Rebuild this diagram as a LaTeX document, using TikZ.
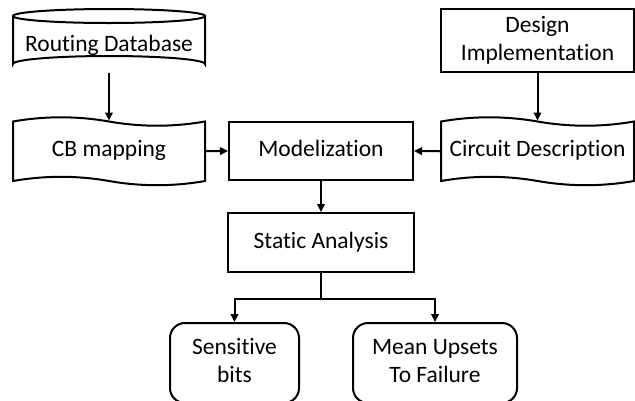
\documentclass[tikz,border=0pt]{standalone}
\usepackage{fontspec}
\setmainfont{Carlito}[Ligatures=NoCommon]
\usetikzlibrary{arrows.meta}
\newcommand\sr{\rule[-4.8pt]{0pt}{20pt}}
\newcommand\tapeshape[4]{%
  \draw (#1,#3) .. controls ({#1+(#2-#1)/6},{#3-5.6}) and ({#1+(#2-#1)/3},{#3-5.6}) .. ({(#1+#2)/2},#3)
    .. controls ({#1+2*(#2-#1)/3},{#3+5.6}) and ({#1+5*(#2-#1)/6},{#3+5.6}) .. (#2,#3)
    -- (#2,#4) .. controls ({#1+5*(#2-#1)/6},{#4+5.6}) and ({#1+2*(#2-#1)/3},{#4+5.6}) .. ({(#1+#2)/2},#4)
    .. controls ({#1+(#2-#1)/3},{#4-5.6}) and ({#1+(#2-#1)/6},{#4-5.6}) .. (#1,#4) -- cycle;}
\begin{document}
\begin{tikzpicture}[x=1pt,y=-1pt,line width=2pt,
  txt/.style={font=\fontsize{23.5}{28}\selectfont, align=center, inner sep=0pt},
  boxed/.style={txt, draw, rectangle},
  rbox/.style={txt, draw, rectangle, rounded corners=15pt},
  arr/.style={-{Triangle[length=8pt,width=7.5pt]}}]
\useasboundingbox (0,0) rectangle (635,400);
\clip (0,0) rectangle (635,400);
% cylinder outline
\draw (13,16) -- (13,64) arc[start angle=180,end angle=360,x radius=96,y radius=8] -- (205,16);
\draw (109,16) ellipse [x radius=96, y radius=7];
% tape outlines
\tapeshape{13}{205}{121.5}{181}
\tapeshape{441}{634}{121.5}{181}
% nodes
\node[txt, minimum width=192pt, minimum height=53pt] (rdb) at (109,45.5) {\sr Routing Database};
\node[boxed, minimum width=193pt, minimum height=63pt] (di) at (537.5,40.5) {\sr Design\\\sr Implementation};
\node[txt, minimum width=192pt, minimum height=59.5pt] (cb) at (109,151.25) {\sr CB mapping};
\node[txt, minimum width=193pt, minimum height=59.5pt] (ci) at (537.5,151.25) {\sr Circuit Description};
\node[boxed, minimum width=184pt, minimum height=58pt] (mod) at (321,151) {\sr Modelization};
\node[boxed, minimum width=186pt, minimum height=59pt] (sa) at (321,242.5) {\sr Static Analysis};
\node[rbox, minimum width=129pt, minimum height=80pt] (sb) at (234.5,363) {\sr Sensitive\\\sr bits};
\node[rbox, minimum width=164pt, minimum height=80pt] (mu) at (435,363) {\sr Mean Upsets\\\sr To Failure};
% connectors
\draw[arr] (rdb.south) -- (cb.north);
\draw[arr] (di.south) -- (ci.north);
\draw[arr] (cb.east) -- (mod.west);
\draw[arr] (ci.west) -- (mod.east);
\draw[arr] (mod.south) -- (sa.north);
\draw[arr] (sa.south) -- ++(0,25.5) -| (sb.north);
\draw[arr] (sa.south) -- ++(0,25.5) -| (mu.north);
\end{tikzpicture}
\end{document}
